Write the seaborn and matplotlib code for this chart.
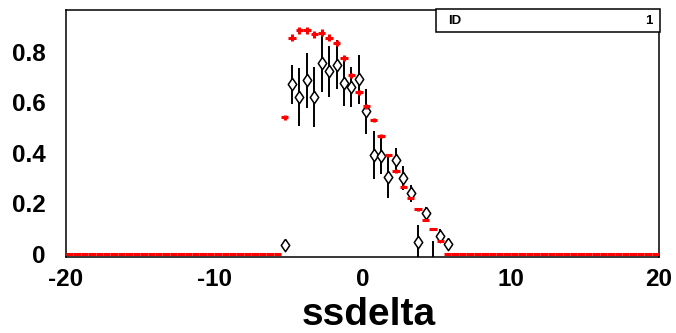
import matplotlib
matplotlib.use("Agg")
import matplotlib.pyplot as plt
import seaborn as sns
import numpy as np
import pandas as pd
from matplotlib.patches import Rectangle
from matplotlib.ticker import MultipleLocator, FuncFormatter

# 80 bins of width 0.5 between -20 and 20
bin_centres = np.arange(-19.75, 20.0, 0.5)

# red histogram, filled bins (-5.25 .. 5.25); every other bin is empty (0)
red_x = np.arange(-5.25, 5.5, 0.5)
red_vals = [0.541, 0.855, 0.884, 0.884, 0.868, 0.875, 0.855, 0.834, 0.774, 0.706, 0.640,
            0.584, 0.529, 0.465, 0.390, 0.328, 0.265, 0.222, 0.176, 0.134, 0.100, 0.050]
red_errs = [0.010, 0.013, 0.013, 0.013, 0.013, 0.013, 0.013, 0.012, 0.012, 0.011, 0.010,
            0.009, 0.008, 0.008, 0.007, 0.006, 0.006, 0.005, 0.005, 0.004, 0.004, 0.003]

# black points (open diamonds), bins -5.25 .. 5.75
black_x = np.arange(-5.25, 6.0, 0.5)
black_vals = [0.035, 0.670, 0.620, 0.686, 0.620, 0.755, 0.722, 0.748, 0.677, 0.660, 0.690,
              0.564, 0.390, 0.388, 0.305, 0.370, 0.300, 0.240, 0.046, 0.163, 0.000, 0.071, 0.040]
black_errs = [0.005, 0.077, 0.115, 0.108, 0.120, 0.115, 0.100, 0.097, 0.092, 0.080, 0.096,
              0.088, 0.095, 0.073, 0.083, 0.047, 0.046, 0.034, 0.070, 0.024, 0.050, 0.028, 0.010]

red_y = np.zeros(len(bin_centres))
red_e = np.zeros(len(bin_centres))
idx = np.searchsorted(bin_centres, red_x)
red_y[idx] = red_vals
red_e[idx] = red_errs
red_df = pd.DataFrame({'x': bin_centres, 'y': red_y, 'err': red_e})
black_df = pd.DataFrame({'x': black_x, 'y': black_vals, 'err': black_errs})

sns.set_style("white")
plt.rcParams['font.family'] = ['Liberation Sans', 'DejaVu Sans']
plt.rcParams['font.weight'] = 'bold'
plt.rcParams['axes.unicode_minus'] = False
plt.rcParams['text.color'] = 'black'
plt.rcParams['axes.labelcolor'] = 'black'

fig = plt.figure(figsize=(6.76, 3.33), dpi=100)
ax = fig.add_axes([66/676, 1 - 257/333, 593/676, 247/333])

ax.errorbar(black_df.x, black_df.y, yerr=black_df.err, fmt='none',
            ecolor='black', elinewidth=1.4, zorder=2)
diamond = [(0, 1), (0.68, 0), (0, -1), (-0.68, 0), (0, 1)]
sns.scatterplot(data=black_df[black_df.y > 0], x='x', y='y', marker=diamond, s=80,
                color='white', edgecolor='black', linewidth=1.1, ax=ax, zorder=3, legend=False)
ax.errorbar(red_df.x, red_df.y, xerr=0.25, yerr=red_df.err, fmt='none',
            ecolor='red', elinewidth=2.2, zorder=4)

ax.set_xlim(-20, 20)
ax.set_ylim(-0.0119, 0.9644)
ax.xaxis.set_major_locator(MultipleLocator(10))
ax.xaxis.set_minor_locator(MultipleLocator(2))
ax.yaxis.set_major_locator(MultipleLocator(0.2))
ax.yaxis.set_minor_locator(MultipleLocator(0.05))
ax.yaxis.set_major_formatter(FuncFormatter(lambda v, p: '0' if abs(v) < 1e-9 else f'{v:.1f}'))
ax.tick_params(which='both', direction='in', top=False, right=False, colors='black')
ax.tick_params(axis='x', which='major', length=10, width=1.0, pad=8, labelsize=17.5)
ax.tick_params(axis='x', which='minor', length=5, width=1.0)
ax.tick_params(axis='y', which='major', length=11, width=1.0, pad=14.6, labelsize=17.5)
ax.tick_params(axis='y', which='minor', length=5.5, width=1.0)
for sp in ax.spines.values():
    sp.set_color('black')
    sp.set_linewidth(1.1)

ax.set_xlabel('ssdelta', fontsize=28, fontweight='bold', color='black')
ax.set_ylabel('')
ax.xaxis.set_label_coords(0.511, -(325 - 257) / 247)
ax.xaxis.label.set_verticalalignment('baseline')

# stats box
fig.patches.append(Rectangle((436/676, 1 - 31.7/333), 224/676, 22.7/333, transform=fig.transFigure,
                             facecolor='white', edgecolor='black', linewidth=1.1, zorder=5))
fig.text(448/676, 1 - 21/333, 'ID', fontsize=9.5, fontweight='bold', color='black',
         ha='left', va='center', zorder=6)
fig.text(653/676, 1 - 21/333, '1', fontsize=9.5, fontweight='bold', color='black',
         ha='right', va='center', zorder=6)

fig.savefig('out.png', dpi=100)
